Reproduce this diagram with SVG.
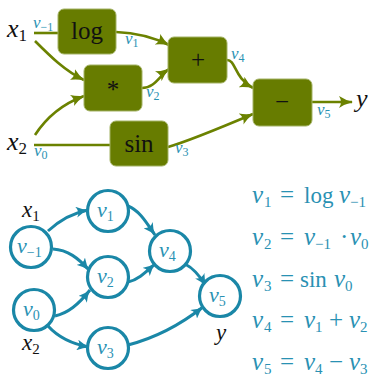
<svg xmlns="http://www.w3.org/2000/svg" width="369" height="376" viewBox="0 0 369 376">
<defs>
<style>
.box{fill:#677c00;stroke:#a3b264;stroke-width:1}
.op{font-family:"Liberation Serif",serif;font-size:25px;fill:#111;text-anchor:middle}
.ol{fill:none;stroke:#6b8200;stroke-width:2.6}
.tl{fill:none;stroke:#1a87a7;stroke-width:3}
.circ{fill:#fff;stroke:#1a87a7;stroke-width:3.2}
.lbl{font-family:"Liberation Serif",serif;font-style:italic;fill:#2991b3}
.blk{font-family:"Liberation Serif",serif;font-style:italic;fill:#111}
.eq{font-family:"Liberation Serif",serif;font-size:25px;fill:#2991b3}
.i{font-style:italic}
.s{font-size:15px}
.w{font-size:23px}
</style>
<marker id="ao" viewBox="0 0 14 12" refX="13" refY="6" markerWidth="14" markerHeight="12" markerUnits="userSpaceOnUse" orient="auto">
<path d="M0,0 Q6,4 14,6 Q6,8 0,12 Q4,6 0,0 Z" fill="#6b8200"/>
</marker>
<marker id="at" viewBox="0 0 13 11" refX="12" refY="5.5" markerWidth="13" markerHeight="11" markerUnits="userSpaceOnUse" orient="auto">
<path d="M0,0 Q6,4 13,5.5 Q6,7 0,11 Q4,5.5 0,0 Z" fill="#1a87a7"/>
</marker>
</defs>
<rect width="369" height="376" fill="#fff"/>

<g id="connectors-top">
<path class="ol" d="M34,33 H58"/>
<path class="ol" d="M34,145 H110"/>
<path class="ol" d="M116,32 C140,33 155,38 169,45" marker-end="url(#ao)"/>
<path class="ol" d="M35,41 C50,56 65,71 84,80" marker-end="url(#ao)"/>
<path class="ol" d="M35,135 C48,115 65,103 84,96" marker-end="url(#ao)"/>
<path class="ol" d="M142,88 C155,88 160,75 169,69" marker-end="url(#ao)"/>
<path class="ol" d="M168,147 C182,143 220,128 253,114" marker-end="url(#ao)"/>
<path class="ol" d="M227,60 C236,60 234,78 253,88" marker-end="url(#ao)"/>
<path class="ol" d="M312,102 H352" marker-end="url(#ao)"/>
</g>

<g id="n-log"><rect class="box" x="58" y="9" width="58" height="45" rx="6"/><text class="op" x="87" y="39">log</text></g>
<g id="n-mul"><rect class="box" x="84" y="65" width="58" height="46" rx="6"/><text class="op" x="113" y="98">*</text></g>
<g id="n-sin"><rect class="box" x="110" y="121" width="58" height="45" rx="6"/><text class="op" x="139" y="152">sin</text></g>
<g id="n-add"><rect class="box" x="168" y="37" width="59" height="46" rx="6"/><text class="op" x="198" y="68">+</text></g>
<g id="n-sub"><rect class="box" x="253" y="79" width="59" height="47" rx="6"/><text class="op" x="282" y="110">−</text></g>

<g id="top-labels">
<text class="blk" x="7" y="37" font-size="26">x<tspan font-style="normal" font-size="17" dy="4">1</tspan></text>
<text class="blk" x="7" y="150" font-size="26">x<tspan font-style="normal" font-size="17" dy="4">2</tspan></text>
<text class="blk" x="356" y="107" font-size="26">y</text>
<text class="lbl" x="33" y="28" font-size="17">v<tspan font-style="normal" font-size="12" dy="3">−1</tspan></text>
<text class="lbl" x="125" y="44" font-size="17">v<tspan font-style="normal" font-size="12" dy="3">1</tspan></text>
<text class="lbl" x="146" y="97" font-size="17">v<tspan font-style="normal" font-size="12" dy="3">2</tspan></text>
<text class="lbl" x="34" y="156" font-size="17">v<tspan font-style="normal" font-size="12" dy="3">0</tspan></text>
<text class="lbl" x="175" y="153" font-size="17">v<tspan font-style="normal" font-size="12" dy="3">3</tspan></text>
<text class="lbl" x="231" y="59" font-size="17">v<tspan font-style="normal" font-size="12" dy="3">4</tspan></text>
<text class="lbl" x="317" y="115" font-size="17">v<tspan font-style="normal" font-size="12" dy="3">5</tspan></text>
</g>

<g id="connectors-bottom">
<path class="tl" d="M48,231 C60,220 72,213 88,210" marker-end="url(#at)"/>
<path class="tl" d="M53,249 C68,250 78,258 89,270" marker-end="url(#at)"/>
<path class="tl" d="M55,316 C68,313 78,305 90,290" marker-end="url(#at)"/>
<path class="tl" d="M48,326 C58,337 72,344 89,347" marker-end="url(#at)"/>
<path class="tl" d="M128,206 C140,211 146,222 155,235" marker-end="url(#at)"/>
<path class="tl" d="M128,282 C138,280 146,272 155,264" marker-end="url(#at)"/>
<path class="tl" d="M185,264 C193,268 200,276 206,286" marker-end="url(#at)"/>
<path class="tl" d="M128,345 C155,338 180,325 203,307" marker-end="url(#at)"/>
</g>

<g id="c-vm1"><circle class="circ" cx="31" cy="247" r="20.5"/><text class="lbl" x="17" y="253" font-size="22">v<tspan font-style="normal" font-size="14" dy="4">−1</tspan></text></g>
<g id="c-v0"><circle class="circ" cx="34" cy="310" r="20.5"/><text class="lbl" x="23" y="316" font-size="22">v<tspan font-style="normal" font-size="14" dy="4">0</tspan></text></g>
<g id="c-v1"><circle class="circ" cx="108" cy="211" r="20.5"/><text class="lbl" x="97" y="217" font-size="22">v<tspan font-style="normal" font-size="14" dy="4">1</tspan></text></g>
<g id="c-v2"><circle class="circ" cx="108" cy="277" r="20.5"/><text class="lbl" x="97" y="283" font-size="22">v<tspan font-style="normal" font-size="14" dy="4">2</tspan></text></g>
<g id="c-v3"><circle class="circ" cx="108" cy="348" r="20.5"/><text class="lbl" x="97" y="354" font-size="22">v<tspan font-style="normal" font-size="14" dy="4">3</tspan></text></g>
<g id="c-v4"><circle class="circ" cx="170" cy="251" r="20.5"/><text class="lbl" x="159" y="257" font-size="22">v<tspan font-style="normal" font-size="14" dy="4">4</tspan></text></g>
<g id="c-v5"><circle class="circ" cx="220" cy="296" r="20.5"/><text class="lbl" x="209" y="302" font-size="22">v<tspan font-style="normal" font-size="14" dy="4">5</tspan></text></g>

<g id="bottom-labels">
<text class="blk" x="22" y="217" font-size="23">x<tspan font-style="normal" font-size="15" dy="4">1</tspan></text>
<text class="blk" x="22" y="350" font-size="23">x<tspan font-style="normal" font-size="15" dy="4">2</tspan></text>
<text class="blk" x="216" y="340" font-size="23">y</text>
</g>

<g id="equations">
<text class="eq" y="203"><tspan class="i" x="252">v</tspan><tspan class="s" x="264" dy="4">1</tspan><tspan x="280" dy="-4">=</tspan><tspan class="w" x="304">log</tspan><tspan class="i" x="339">v</tspan><tspan class="s" x="350" dy="4">−1</tspan></text>
<text class="eq" y="245"><tspan class="i" x="252">v</tspan><tspan class="s" x="264" dy="4">2</tspan><tspan x="280" dy="-4">=</tspan><tspan class="i" x="304">v</tspan><tspan class="s" x="315" dy="4">−1</tspan><tspan x="340" dy="-4">·</tspan><tspan class="i" x="350">v</tspan><tspan class="s" x="361" dy="4">0</tspan></text>
<text class="eq" y="287"><tspan class="i" x="252">v</tspan><tspan class="s" x="264" dy="4">3</tspan><tspan x="280" dy="-4">=</tspan><tspan class="w" x="300">sin</tspan><tspan class="i" x="334">v</tspan><tspan class="s" x="345" dy="4">0</tspan></text>
<text class="eq" y="328"><tspan class="i" x="252">v</tspan><tspan class="s" x="264" dy="4">4</tspan><tspan x="280" dy="-4">=</tspan><tspan class="i" x="304">v</tspan><tspan class="s" x="315" dy="4">1</tspan><tspan x="329" dy="-4">+</tspan><tspan class="i" x="349">v</tspan><tspan class="s" x="360" dy="4">2</tspan></text>
<text class="eq" y="370"><tspan class="i" x="252">v</tspan><tspan class="s" x="264" dy="4">5</tspan><tspan x="280" dy="-4">=</tspan><tspan class="i" x="304">v</tspan><tspan class="s" x="315" dy="4">4</tspan><tspan x="329" dy="-4">−</tspan><tspan class="i" x="349">v</tspan><tspan class="s" x="360" dy="4">3</tspan></text>
</g>
</svg>
